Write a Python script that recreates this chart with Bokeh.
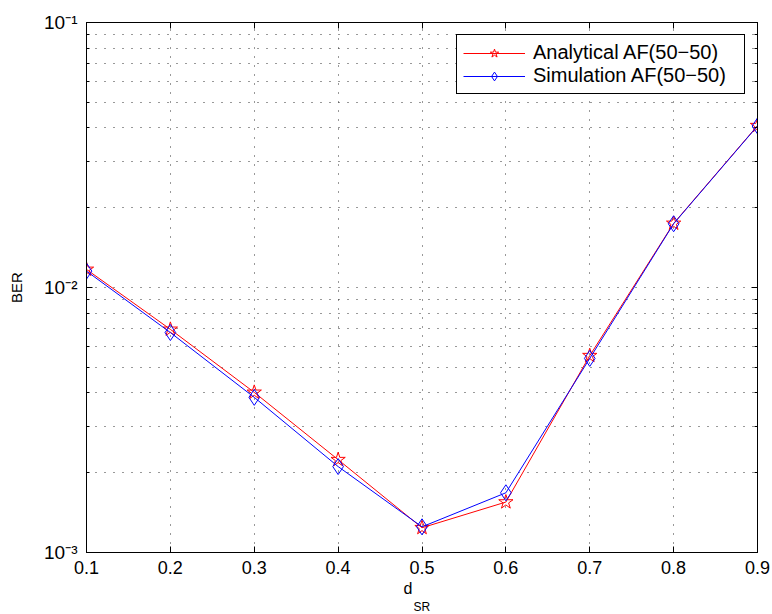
import math

from bokeh.embed import file_html
from bokeh.models import FixedTicker, Legend, LegendItem, LinearAxis, LogAxis, Title
from bokeh.plotting import figure
from bokeh.resources import INLINE

# Source-relay distance and bit error rates
d_sr = [0.1, 0.2, 0.3, 0.4, 0.5, 0.6, 0.7, 0.8, 0.9]
ber_analytical = [0.0117, 0.00695, 0.00402, 0.00224, 0.00124, 0.00155, 0.00553, 0.01745, 0.0408]
ber_simulation = [0.01153, 0.00676, 0.00385, 0.00211, 0.00125, 0.00168, 0.0054, 0.0174, 0.0407]

series_names = ["Analytical AF(50\u221250)", "Simulation AF(50\u221250)"]

x_ticks = [0.1, 0.2, 0.3, 0.4, 0.5, 0.6, 0.7, 0.8, 0.9]
y_major = [1e-3, 1e-2, 1e-1]
y_tick_labels = ["10\u207b\u00b3", "10\u207b\u00b2", "10\u207b\u00b9"]
y_minor = [m * 10.0 ** e for e in (-3, -2) for m in range(2, 10)]

FONT = "Liberation Sans"

p = figure(
    width=772, height=614,
    x_range=(x_ticks[0], x_ticks[-1]), y_range=(y_major[0], y_major[-1]),
    y_axis_type="log",
    output_backend="svg", toolbar_location=None,
    min_border_left=86, min_border_right=15, min_border_top=22, min_border_bottom=62,
    background_fill_color="white", border_fill_color="white",
    outline_line_color="black", outline_line_width=1, outline_line_alpha=1.0,
)

xt = FixedTicker(ticks=x_ticks)
yt = FixedTicker(ticks=y_major, minor_ticks=y_minor)


def style_axis(ax, show_labels):
    ax.axis_line_color = "black"
    ax.axis_line_width = 1
    ax.major_tick_in = 6
    ax.major_tick_out = 0
    ax.minor_tick_in = 3
    ax.minor_tick_out = 0
    ax.major_tick_line_color = "black"
    ax.minor_tick_line_color = "black"
    if show_labels:
        ax.major_label_text_font = FONT
        ax.major_label_text_font_size = "18px"
        ax.major_label_text_color = "black"
    else:
        ax.major_label_text_font_size = "1px"
        ax.major_label_text_alpha = 0
        ax.major_label_standoff = 0


xaxis = p.xaxis[0]
xaxis.ticker = xt
xaxis.formatter.use_scientific = False
style_axis(xaxis, True)
xaxis.major_label_standoff = 8
xaxis.minor_tick_line_color = None

yaxis = p.yaxis[0]
yaxis.ticker = yt
style_axis(yaxis, True)
yaxis.major_label_text_font_size = "19px"
yaxis.major_label_standoff = 9
yaxis.major_label_overrides = dict(zip(y_major, y_tick_labels))
yaxis.axis_label = "BER"
yaxis.axis_label_text_font = FONT
yaxis.axis_label_text_font_size = "15px"
yaxis.axis_label_text_font_style = "normal"
yaxis.axis_label_text_color = "black"
yaxis.axis_label_standoff = 16

top = LinearAxis(ticker=xt)
style_axis(top, False)
top.minor_tick_line_color = None
p.add_layout(top, "above")

right = LogAxis(ticker=yt)
style_axis(right, False)
p.add_layout(right, "right")

# x-axis title: "d" with subscript "SR"
p.add_layout(Title(text="d", align="left", offset=317, standoff=2,
                   text_font=FONT, text_font_size="16px", text_font_style="normal",
                   text_color="black"), "below")
p.add_layout(Title(text="SR", align="left", offset=327, standoff=0,
                   text_font=FONT, text_font_size="12px", text_font_style="normal",
                   text_color="black"), "below")

# MATLAB-like dotted grid
p.xgrid.ticker = xt
p.ygrid.ticker = yt
for g in (p.xgrid[0], p.ygrid[0]):
    g.grid_line_color = "#333333"
    g.grid_line_dash = "1 8"
    g.grid_line_width = 1
p.ygrid.minor_grid_line_color = "#333333"
p.ygrid.minor_grid_line_dash = "1 8"

# Series
r_line_a = p.line(d_sr, ber_analytical, line_color="red", line_width=1)
r_mark_a = p.scatter(d_sr, ber_analytical, marker="star", size=15,
                     fill_color=None, line_color="red", line_width=1)
r_line_s = p.line(d_sr, ber_simulation, line_color="blue", line_width=1)
r_mark_s = p.scatter(d_sr, ber_simulation, marker="diamond", size=16,
                     fill_color=None, line_color="blue", line_width=1)

legend = Legend(
    items=[
        LegendItem(label=series_names[0], renderers=[r_line_a, r_mark_a]),
        LegendItem(label=series_names[1], renderers=[r_line_s, r_mark_s]),
    ],
    location="top_right",
    margin=12,
    padding=6,
    spacing=0,
    glyph_width=62,
    glyph_height=22,
    label_height=22,
    label_width=205,
    label_standoff=8,
    label_text_font=FONT,
    label_text_font_size="20px",
    label_text_color="black",
    border_line_color="black",
    border_line_width=1,
    border_line_alpha=1.0,
    background_fill_alpha=1.0,
)
p.add_layout(legend, "center")

open("out.html", "w").write(file_html(p, INLINE))
